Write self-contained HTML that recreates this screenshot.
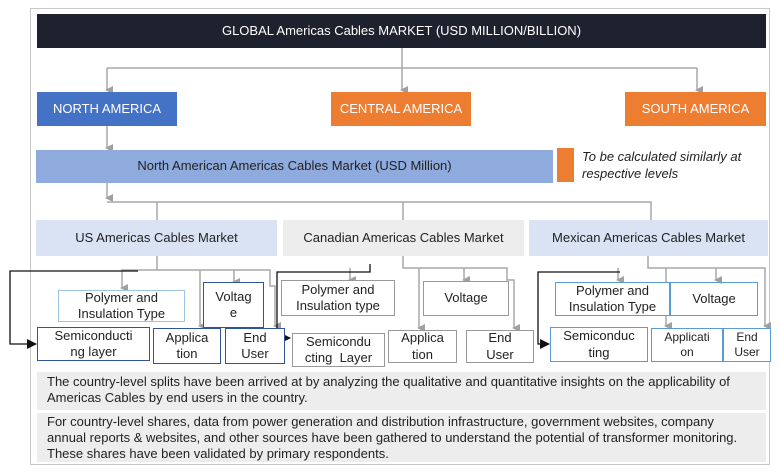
<!DOCTYPE html>
<html><head><meta charset="utf-8"><style>
body{margin:0;width:779px;height:473px;background:#fff;position:relative;overflow:hidden;font-family:"Liberation Sans Narrow","Liberation Sans",sans-serif;}
.b{position:absolute;box-sizing:border-box;display:flex;align-items:center;justify-content:center;text-align:center;font-size:13px;color:#222;line-height:1.25;}
svg{position:absolute;left:0;top:0;}
</style></head><body>
<div style="position:absolute;left:30px;top:8px;width:740px;height:457px;border:1px solid #c8c8c8;box-sizing:border-box"></div>
<svg width="779" height="473">
<defs><marker id="g" markerWidth="8" markerHeight="8" refX="4" refY="6" orient="auto-start-reverse" markerUnits="userSpaceOnUse"><path d="M0,0 L8,0 L4,8z" fill="#a0a0a0"/></marker>
<marker id="k" markerWidth="10" markerHeight="10" refX="9" refY="5" orient="auto" markerUnits="userSpaceOnUse"><path d="M0,0 L10,5 L0,10z" fill="#111"/></marker></defs>
<g stroke="#a8a8a8" stroke-width="1.5" fill="none">
<path d="M402,48 V90" marker-end="url(#g)"/>
<path d="M107,68 H697"/>
<path d="M107,68 V90" marker-end="url(#g)"/>
<path d="M697,68 V90" marker-end="url(#g)"/>
<path d="M107,126 V148" marker-end="url(#g)"/>
<path d="M107,183 V198" marker-end="url(#g)"/>
<path d="M107,202 H651 V220 M157,202 V220 M403,202 V220"/>
<path d="M157,256 V270 H122 V288" marker-end="url(#g)"/>
<path d="M157,270 H270 V286 H275 V326" marker-end="url(#g)"/>
<path d="M234,270 V282" marker-end="url(#g)"/>
<path d="M200,270 V326" marker-end="url(#g)"/>
<path d="M403,256 V268 H507 V280 H514 V328" marker-end="url(#g)"/>
<path d="M350,268 V280" marker-end="url(#g)"/>
<path d="M464,268 V280" marker-end="url(#g)"/>
<path d="M419,268 V328" marker-end="url(#g)"/>
<path d="M648,256 V268 H765 V326" marker-end="url(#g)"/>
<path d="M618,268 V280" marker-end="url(#g)"/>
<path d="M716,268 V280" marker-end="url(#g)"/>
<path d="M666,268 V326" marker-end="url(#g)"/>
</g>
<g stroke="#111" stroke-width="1.3" fill="none">
<path d="M138,271 H10 V344 H36" marker-end="url(#k)"/>
<path d="M370,264 V272 H277 V338 H290" marker-end="url(#k)"/>
<path d="M620,272 H538 V344 H549" marker-end="url(#k)"/>
</g>
</svg>
<div class="b" style="left:37px;top:14px;width:729px;height:34px;background:#1e222e;color:#fff;font-size:13px">GLOBAL Americas Cables MARKET (USD MILLION/BILLION)</div>
<div class="b" style="left:37px;top:92px;width:140px;height:34px;background:#4472c4;color:#fff">NORTH AMERICA</div>
<div class="b" style="left:331px;top:92px;width:140px;height:34px;background:#ed7d31;color:#fff">CENTRAL AMERICA</div>
<div class="b" style="left:625px;top:92px;width:141px;height:34px;background:#ed7d31;color:#fff">SOUTH AMERICA</div>
<div class="b" style="left:36px;top:150px;width:517px;height:33px;background:#8faadc">North American Americas Cables Market (USD Million)</div>
<div style="position:absolute;left:557px;top:148px;width:17px;height:34px;background:#ed7d31"></div>
<div style="position:absolute;left:582px;top:148px;font-size:13px;font-style:italic;line-height:17px;color:#222">To be calculated similarly at<br>respective levels</div>
<div class="b" style="left:36px;top:220px;width:241px;height:36px;background:#dae3f3">US Americas Cables Market</div>
<div class="b" style="left:283px;top:220px;width:241px;height:36px;background:#ededed">Canadian Americas Cables Market</div>
<div class="b" style="left:529px;top:220px;width:239px;height:36px;background:#dae3f3">Mexican Americas Cables Market</div>
<div class="b" style="left:58px;top:290px;width:127px;height:32px;border:1.5px solid #9dc3e6;background:#fff">Polymer and<br>Insulation Type</div>
<div class="b" style="left:203px;top:282px;width:61px;height:46px;border:1.5px solid #2f5597;background:#fff">Voltag<br>e</div>
<div class="b" style="left:37px;top:327px;width:113px;height:34px;border:1.5px solid #2f5597;background:#fff">Semiconducti<br>ng layer</div>
<div class="b" style="left:153px;top:328px;width:68px;height:36px;border:1.5px solid #2f5597;background:#fff">Applica<br>tion</div>
<div class="b" style="left:225px;top:328px;width:60px;height:36px;border:1.5px solid #2f5597;background:#fff">End<br>User</div>
<div class="b" style="left:281px;top:280px;width:114px;height:36px;border:1.5px solid #999;background:#fff">Polymer and<br>Insulation type</div>
<div class="b" style="left:423px;top:281px;width:86px;height:35px;border:1.5px solid #999;background:#fff">Voltage</div>
<div class="b" style="left:292px;top:333px;width:93px;height:34px;border:1.5px solid #999;background:#fff">Semicondu<br>cting&nbsp; Layer</div>
<div class="b" style="left:388px;top:330px;width:69px;height:33px;border:1.5px solid #999;background:#fff">Applica<br>tion</div>
<div class="b" style="left:466px;top:330px;width:68px;height:33px;border:1.5px solid #999;background:#fff">End<br>User</div>
<div class="b" style="left:555px;top:282px;width:115px;height:34px;border:1.5px solid #5b9bd5;background:#fff">Polymer and<br>Insulation Type</div>
<div class="b" style="left:670px;top:282px;width:88px;height:34px;border:1.5px solid #5b9bd5;background:transparent">Voltage</div>
<div class="b" style="left:550px;top:327px;width:98px;height:35px;border:1.5px solid #5b9bd5;background:#fff">Semiconduc<br>ting</div>
<div class="b" style="left:651px;top:328px;width:72px;height:34px;border:1.5px solid #5b9bd5;background:#fff;font-size:12px">Applicati<br>on</div>
<div class="b" style="left:723px;top:328px;width:48px;height:34px;border:1.5px solid #5b9bd5;background:#fff;font-size:12px">End<br>User</div>
<div style="position:absolute;left:37px;top:372px;width:729px;height:38px;background:#ededed;box-sizing:border-box;padding:2px 10px;font-size:13px;line-height:16px;color:#222;font-family:'Liberation Sans',sans-serif">The country-level splits have been arrived at by analyzing the qualitative and quantitative insights on the applicability of Americas Cables by end users in the country.</div>
<div style="position:absolute;left:37px;top:413px;width:729px;height:49px;background:#ededed;box-sizing:border-box;padding:1px 10px;font-size:13px;line-height:16px;color:#222;font-family:'Liberation Sans',sans-serif">For country-level shares, data from power generation and distribution infrastructure, government websites, company annual reports &amp; websites, and other sources have been gathered to understand the potential of transformer monitoring. These shares have been validated by primary respondents.</div>
</body></html>
